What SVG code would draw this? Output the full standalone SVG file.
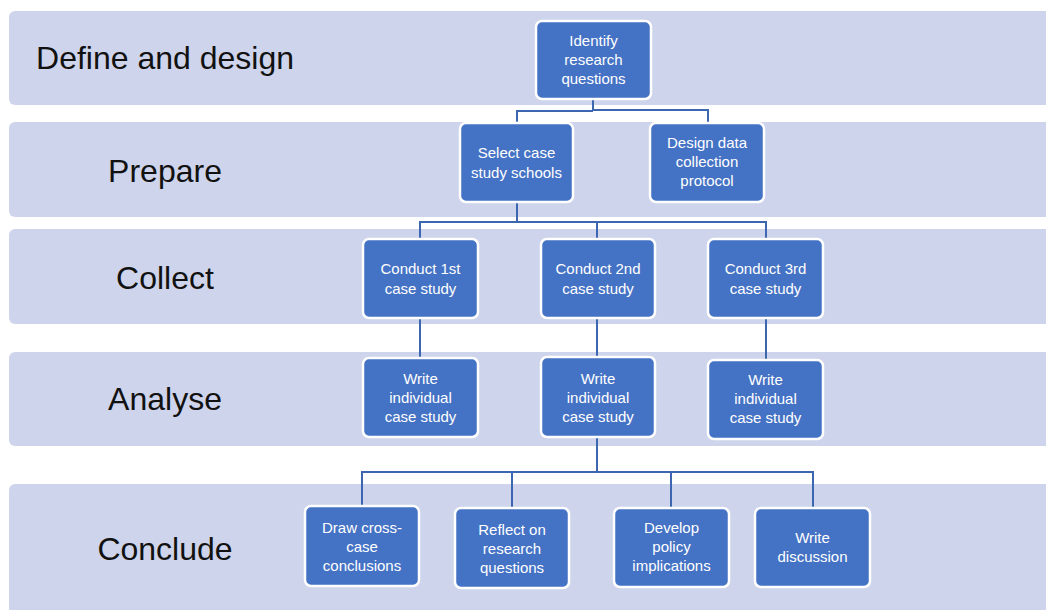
<svg xmlns="http://www.w3.org/2000/svg" width="1046" height="610" viewBox="0 0 1046 610">
  <style>
    .band { fill: #CED4EB; }
    .stage { font-family: "Liberation Sans", Arial, sans-serif; font-size: 32px; fill: #111111; text-anchor: middle; }
    .box { fill: #4472C4; stroke: #FFFFFF; stroke-width: 2.5; }
    .lbl { font-family: "Liberation Sans", Arial, sans-serif; font-size: 15px; fill: #FFFFFF; text-anchor: middle; }
    .link { fill: none; stroke: #3C66B0; stroke-width: 2; }
  </style>
  <rect width="1046" height="610" fill="#FFFFFF"/>

  <!-- stage bands -->
  <g id="bands">
    <g id="band-define">
      <rect class="band" x="9" y="11" width="1050" height="94" rx="6"/>
      <text class="stage" x="165" y="69">Define and design</text>
    </g>
    <g id="band-prepare">
      <rect class="band" x="9" y="122" width="1050" height="95" rx="6"/>
      <text class="stage" x="165" y="182">Prepare</text>
    </g>
    <g id="band-collect">
      <rect class="band" x="9" y="229" width="1050" height="95" rx="6"/>
      <text class="stage" x="165" y="289">Collect</text>
    </g>
    <g id="band-analyse">
      <rect class="band" x="9" y="352" width="1050" height="94" rx="6"/>
      <text class="stage" x="165" y="410">Analyse</text>
    </g>
    <g id="band-conclude">
      <rect class="band" x="9" y="484" width="1050" height="140" rx="6"/>
      <text class="stage" x="165" y="560">Conclude</text>
    </g>
  </g>

  <!-- connectors -->
  <g id="connectors">
    <path class="link" d="M593 99 V111 M517 123 V111 H593 M593 110 H708 V123"/>
    <path class="link" d="M517 202 V222 M420 239 V222 H766 V239 M597 222 V239"/>
    <path class="link" d="M420 318 V358 M597 318 V357 M766 318 V360"/>
    <path class="link" d="M597 437 V472 M362 506 V472 H813 V508 M512 472 V508 M671 472 V508"/>
  </g>

  <!-- nodes -->
  <g id="identify">
    <rect class="box" x="536" y="21" width="115" height="78" rx="6"/>
    <text class="lbl" x="593.5" y="46">Identify</text>
    <text class="lbl" x="593.5" y="65">research</text>
    <text class="lbl" x="593.5" y="84">questions</text>
  </g>
  <g id="select">
    <rect class="box" x="460" y="123" width="113" height="79" rx="6"/>
    <text class="lbl" x="516.5" y="158">Select case</text>
    <text class="lbl" x="516.5" y="178">study schools</text>
  </g>
  <g id="design">
    <rect class="box" x="650" y="123" width="114" height="79" rx="6"/>
    <text class="lbl" x="707" y="148">Design data</text>
    <text class="lbl" x="707" y="167">collection</text>
    <text class="lbl" x="707" y="186">protocol</text>
  </g>

  <g id="conduct1">
    <rect class="box" x="363" y="239" width="115" height="79" rx="6"/>
    <text class="lbl" x="420.5" y="274">Conduct 1st</text>
    <text class="lbl" x="420.5" y="294">case study</text>
  </g>
  <g id="conduct2">
    <rect class="box" x="541" y="239" width="114" height="79" rx="6"/>
    <text class="lbl" x="598" y="274">Conduct 2nd</text>
    <text class="lbl" x="598" y="294">case study</text>
  </g>
  <g id="conduct3">
    <rect class="box" x="708" y="239" width="115" height="79" rx="6"/>
    <text class="lbl" x="765.5" y="274">Conduct 3rd</text>
    <text class="lbl" x="765.5" y="294">case study</text>
  </g>

  <g id="write1">
    <rect class="box" x="363" y="358" width="115" height="79" rx="6"/>
    <text class="lbl" x="420.5" y="384">Write</text>
    <text class="lbl" x="420.5" y="403">individual</text>
    <text class="lbl" x="420.5" y="422">case study</text>
  </g>
  <g id="write2">
    <rect class="box" x="541" y="357" width="114" height="80" rx="6"/>
    <text class="lbl" x="598" y="384">Write</text>
    <text class="lbl" x="598" y="403">individual</text>
    <text class="lbl" x="598" y="422">case study</text>
  </g>
  <g id="write3">
    <rect class="box" x="708" y="360" width="115" height="79" rx="6"/>
    <text class="lbl" x="765.5" y="385">Write</text>
    <text class="lbl" x="765.5" y="404">individual</text>
    <text class="lbl" x="765.5" y="423">case study</text>
  </g>

  <g id="cross-case">
    <rect class="box" x="305" y="506" width="114" height="80" rx="6"/>
    <text class="lbl" x="362" y="533">Draw cross-</text>
    <text class="lbl" x="362" y="552">case</text>
    <text class="lbl" x="362" y="571">conclusions</text>
  </g>
  <g id="reflect">
    <rect class="box" x="455" y="508" width="114" height="80" rx="6"/>
    <text class="lbl" x="512" y="535">Reflect on</text>
    <text class="lbl" x="512" y="554">research</text>
    <text class="lbl" x="512" y="573">questions</text>
  </g>
  <g id="policy">
    <rect class="box" x="614" y="508" width="115" height="79" rx="6"/>
    <text class="lbl" x="671.5" y="533">Develop</text>
    <text class="lbl" x="671.5" y="552">policy</text>
    <text class="lbl" x="671.5" y="571">implications</text>
  </g>
  <g id="discussion">
    <rect class="box" x="755" y="508" width="115" height="79" rx="6"/>
    <text class="lbl" x="812.5" y="543">Write</text>
    <text class="lbl" x="812.5" y="562">discussion</text>
  </g>
</svg>
